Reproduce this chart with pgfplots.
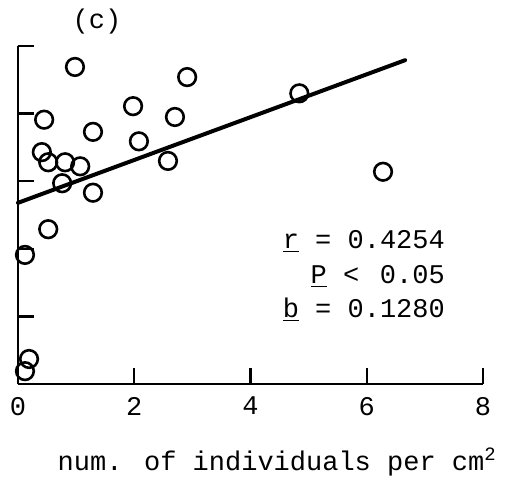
\documentclass[border=0pt]{standalone}
\usepackage{fontspec}
\setmainfont{Liberation Mono}
\usepackage{pgfplots}
\pgfplotsset{compat=1.18}
\usetikzlibrary{calc}

\newcommand{\tw}{\fontsize{13.5}{16}\selectfont}

\begin{document}
\begin{tikzpicture}
\begin{axis}[
  name=ax,
  scale only axis,
  width=232.5pt, height=169pt,
  xmin=0, xmax=8, ymin=0, ymax=5,
  axis lines=left,
  axis line style={-, line width=1.2pt},
  every tick/.style={black, line width=1.2pt},
  tick align=inside,
  major tick length=8pt,
  xtick={0,2,4,6,8},
  ytick={1,2,3,4,5},
  yticklabels={},
  tick label style={font=\tw},
  /pgf/number format/assume math mode=true,
  xticklabel style={yshift=-3pt},
  xlabel={num. of individuals per cm\textsuperscript{2}},
  xlabel style={font=\tw, at={(axis cs:4.46,-1.28)}, anchor=base},
  clip=false,
]
% data points
\addplot[only marks, mark=o, mark size=4.4pt, mark options={line width=1.3pt}]
table[row sep=\\] {
x y \\
0.98 4.69 \\
2.91 4.54 \\
0.45 3.91 \\
1.98 4.11 \\
2.70 3.95 \\
1.29 3.73 \\
2.08 3.59 \\
0.41 3.43 \\
0.52 3.28 \\
0.81 3.28 \\
1.07 3.22 \\
2.58 3.30 \\
0.76 2.97 \\
1.29 2.83 \\
0.52 2.29 \\
4.84 4.30 \\
6.28 3.14 \\
0.12 1.91 \\
0.19 0.37 \\
0.12 0.19 \\
};
% regression line
\addplot[no marks, line width=2pt, line cap=round] coordinates {(0,2.68) (6.66,4.79)};
\node[font=\tw] at (axis cs:1.36,5.36) {(c)};
\node[font=\tw, inner sep=0pt, anchor=base east] at (axis cs:7.35,2.00) {\underline{r} = 0.4254};
\node[font=\tw, inner sep=0pt, anchor=base east] at (axis cs:7.35,1.48) {\underline{P} < \,0.05};
\node[font=\tw, inner sep=0pt, anchor=base east] at (axis cs:7.35,0.98) {\underline{b} = 0.1280};
\coordinate (O) at (rel axis cs:0,0);
\end{axis}
\pgfresetboundingbox
\path[use as bounding box] ($(O)+(-9pt,-48pt)$) rectangle ($(O)+(244pt,192pt)$);
\end{tikzpicture}
\end{document}
